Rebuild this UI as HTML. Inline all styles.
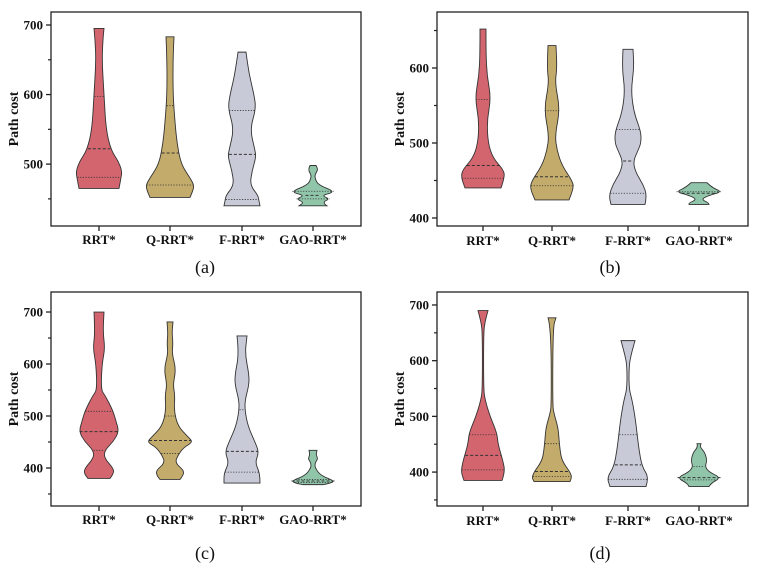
<!DOCTYPE html>
<html><head><meta charset="utf-8"><style>
html,body{margin:0;padding:0;background:#fff;}
svg{display:block;}
svg text{font-family:"Liberation Serif","Times New Roman",Times,serif;}
</style></head><body>
<svg id="fig" width="760" height="566" viewBox="0 0 760 566"></svg>
<script>
const categories = ["RRT*","Q-RRT*","F-RRT*","GAO-RRT*"];
const colors = ["#d3656f","#c3ab6b","#c8cad7","#90c5a9"];
const panelLabels = ["(a)","(b)","(c)","(d)"];
// violin profiles: values (path cost) and relative half-widths, bottom->top
const aVals = [[465,480,490,505,520,550,600,650,680,695],[452,462,470,480,500,530,560,600,650,683],[440,447,455,470,490,510,520,550,580,600,630,661],[440,445,450,455,460,470,480,485,492,498]];
const aWid  = [[20,22,23,19,12,7,5,3,4,5],[20,23,24,20,11,7,5,3,3,4],[18,17,16,8,10,14,13,8,14,12,7,4],[14,9,17,8,23,5,2,2,5,3]];
const aQ    = [[481,522,597],[470,516,584],[449,514,577],[450,455,461]];
const bVals = [[440,455,465,480,500,530,560,590,620,652],[424,440,450,470,490,510,545,580,600,630],[418,430,445,460,475,490,500,515,540,570,600,625],[418,420,425,430,435,440,447]];
const bWid  = [[18,22,20,10,5,4,8,4,3,3],[17,22,20,10,5,3,8,3,5,4],[17,19,15,8,5,10,13,13,6,3,6,5],[10,10,2,10,23,14,8]];
const bQ    = [[453,470,558],[443,455,543],[433,476,518],[418,433,435]];
const cVals = [[380,390,400,420,435,450,470,490,510,540,550,600,630,660,700],[378,385,395,410,425,440,450,460,480,510,540,560,590,620,640,660,681],[371,390,410,430,450,480,510,530,560,580,620,654],[368,370,375,385,400,410,418,425,434]];
const cWid  = [[11,15,14,5,6,14,20,17,14,6,2,3,6,4,5],[10,13,14,5,8,14,23,18,8,4,5,3,6,2,3,2,3],[18,18,13,17,13,6,3,3,7,7,3,5],[10,16,22,8,2,2,5,3,4]];
const cQ    = [[434,470,509],[428,453,500],[392,432,512],[372,375,378]];
const dVals = [[385,400,420,450,470,500,530,550,650,670,690],[383,390,400,420,440,460,480,505,520,660,677],[374,390,410,440,470,500,530,550,590,610,636],[374,380,390,400,410,420,435,445,451]];
const dWid  = [[19,22,20,15,14,7,2,0.6,0.6,2,5],[18,20,18,10,8,7,6,2,0.6,1,4],[18,21,14,11,9,7,4,1,1,3,7],[10,12,22,10,6,8,6,1,2]];
const dQ    = [[404,430,467],[392,401,451],[387,413,467],[386,390,410]];

const panels = [
  {vals:aVals,wid:aWid,q:aQ,x0:51,x1:361,y0:12,y1:226,vmin:411,vmax:718.7,major:[500,600,700],minor:[450,550,650],cx:[99,170,242,313],lab:[205,267],catY:244},
  {vals:bVals,wid:bWid,q:bQ,x0:437,x1:748,y0:12,y1:226,vmin:389.3,vmax:674.7,major:[400,500,600],minor:[450,550,650],cx:[483,552,628,699],lab:[610,267],catY:245},
  {vals:cVals,wid:cWid,q:cQ,x0:51,x1:361,y0:292,y1:506,vmin:326.9,vmax:738.5,major:[400,500,600,700],minor:[350,450,550,650],cx:[99,170,242,313],lab:[205,553],catY:524},
  {vals:dVals,wid:dWid,q:dQ,x0:437,x1:748,y0:292,y1:506,vmin:339.1,vmax:723.3,major:[400,500,600,700],minor:[350,450,550,650],cx:[483,552,628,699],lab:[600,553],catY:525}
];
const NS="http://www.w3.org/2000/svg";
const FONT='"Liberation Serif", "Times New Roman", Times, serif';
const svg=document.getElementById('fig');
function mk(tag,attrs,parent){const e=document.createElementNS(NS,tag);for(const k in attrs)e.setAttribute(k,attrs[k]);if(tag==='text')e.setAttribute('font-family',FONT);(parent||svg).appendChild(e);return e;}
function smooth(pts){let d="M"+pts[0][0]+","+pts[0][1];
  for(let i=1;i<pts.length-1;i++){const mx=(pts[i][0]+pts[i+1][0])/2,my=(pts[i][1]+pts[i+1][1])/2;d+=" Q"+pts[i][0]+","+pts[i][1]+" "+mx+","+my;}
  const l=pts[pts.length-1];d+=" L"+l[0]+","+l[1];return d;}
function interpW(vals,wid,v){for(let i=0;i<vals.length-1;i++){if(v>=vals[i]&&v<=vals[i+1]){const t=(v-vals[i])/(vals[i+1]-vals[i]);return wid[i]+t*(wid[i+1]-wid[i]);}}return 0;}
panels.forEach((p,pi)=>{
  const g=mk('g',{});
  
  
  const Y=v=>p.y1-(v-p.vmin)/(p.vmax-p.vmin)*(p.y1-p.y0);
  const fr=mk('rect',{x:p.x0,y:p.y0,width:p.x1-p.x0,height:p.y1-p.y0,fill:"none",stroke:"#222","stroke-width":1.3},g);
  
  p.major.forEach(v=>{const y=Y(v);
    mk('line',{x1:p.x0-5,x2:p.x0,y1:y,y2:y,stroke:"#222","stroke-width":1.3},g);
    const t=mk('text',{x:p.x0-8,y:y+4.5,"text-anchor":"end","font-size":13,"font-weight":"bold",fill:"#111"},g);
    t.textContent=v;});
  p.minor.forEach(v=>{const y=Y(v);mk('line',{x1:p.x0-3,x2:p.x0,y1:y,y2:y,stroke:"#222","stroke-width":1.2},g);});
  const yl=mk('text',{x:0,y:0,transform:`translate(${p.x0-33},${(p.y0+p.y1)/2}) rotate(-90)`,"text-anchor":"middle","font-size":14,"font-weight":"bold",fill:"#111"},g);
  yl.textContent="Path cost";
  categories.forEach((c,ci)=>{const cx=p.cx[ci],vals=p.vals[ci],wid=p.wid[ci];
    mk('line',{x1:cx,x2:cx,y1:p.y1,y2:p.y1+5,stroke:"#222","stroke-width":1.3},g);
    const lt=mk('text',{x:cx,y:p.catY,"text-anchor":"middle","font-size":13,"font-weight":"bold",fill:"#111"},g);
    lt.textContent=c;
    const right=vals.map((v,i)=>[cx+wid[i],Y(v)]);
    const left=vals.map((v,i)=>[cx-wid[i],Y(v)]).reverse();
    let d=smooth(right)+" L"+left[0][0]+","+left[0][1]+" "+smooth(left).slice(1)+" Z";
    const vp=mk('path',{d:d,fill:colors[ci],stroke:"#333","stroke-width":0.9},g);
    
    
    p.q[ci].forEach((qv,qi)=>{const w=interpW(vals,wid,qv)-0.5,y=Y(qv);
      const ql=mk('line',{x1:cx-w,x2:cx+w,y1:y,y2:y,stroke:"#333","stroke-width":qi==1?1:0.8,"stroke-dasharray":qi==1?"3,2":"1.2,1.5"},g);
      });
  });
  const pl=mk('text',{x:p.lab[0],y:p.lab[1]+6,"text-anchor":"middle","font-size":18,fill:"#111"},g);
  pl.textContent=panelLabels[pi];
});
</script>
</body></html>
